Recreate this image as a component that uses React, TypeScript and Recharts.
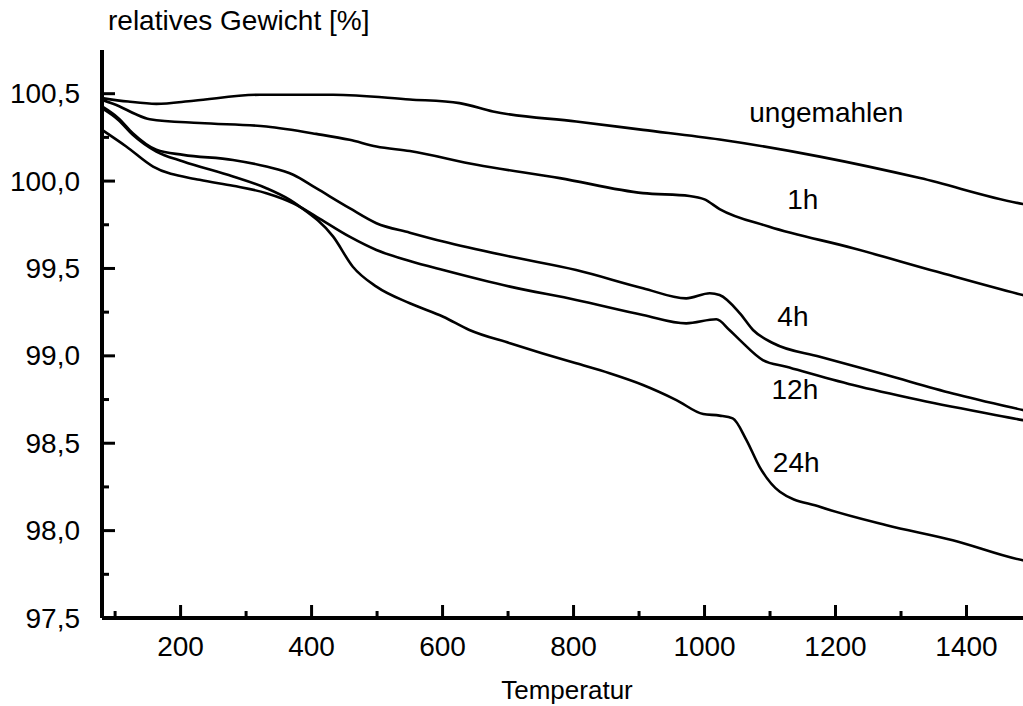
import React from "react";
import {
  LineChart,
  Line,
  XAxis,
  YAxis,
  ReferenceDot
} from "recharts";

// temperature [°C] / relative weight [%] pairs per milling time
const UNGEMAHLEN: [number, number][] = [
  [80, 100.475], [120, 100.455], [163, 100.442], [220, 100.46], [321, 100.494],
  [433, 100.494], [550, 100.467], [626, 100.446], [677, 100.398], [804, 100.341],
  [906, 100.293], [1023, 100.238], [1176, 100.14], [1329, 100.017], [1486, 99.869],
  [1500, 99.86]
];

const H1: [number, number][] = [
  [80, 100.465], [107, 100.427], [130, 100.385], [153, 100.354], [229, 100.332],
  [331, 100.312], [407, 100.27], [458, 100.236], [499, 100.198], [550, 100.172],
  [652, 100.093], [779, 100.017], [906, 99.931], [977, 99.915], [1000, 99.895],
  [1023, 99.84], [1099, 99.739], [1227, 99.616], [1354, 99.482], [1486, 99.348],
  [1500, 99.335]
];

const H4: [number, number][] = [
  [80, 100.427], [105, 100.36], [127, 100.274], [163, 100.179], [204, 100.15],
  [280, 100.121], [331, 100.083], [372, 100.036], [407, 99.959], [458, 99.845],
  [499, 99.759], [550, 99.705], [601, 99.654], [703, 99.568], [804, 99.491],
  [906, 99.387], [972, 99.329], [1008, 99.358], [1023, 99.348], [1054, 99.243],
  [1074, 99.148], [1105, 99.072], [1176, 98.995], [1278, 98.89], [1379, 98.785],
  [1486, 98.69], [1500, 98.678]
];

const H12: [number, number][] = [
  [80, 100.293], [117, 100.198], [158, 100.083], [229, 100.007], [280, 99.973],
  [331, 99.931], [372, 99.873], [407, 99.797], [458, 99.682], [499, 99.606],
  [550, 99.543], [601, 99.491], [703, 99.396], [804, 99.32], [906, 99.234],
  [972, 99.186], [1018, 99.209], [1038, 99.148], [1054, 99.09], [1089, 98.976],
  [1125, 98.938], [1227, 98.833], [1328, 98.747], [1486, 98.632], [1500, 98.622]
];

const H24: [number, number][] = [
  [80, 100.417], [105, 100.35], [127, 100.265], [163, 100.169], [204, 100.112],
  [280, 100.026], [331, 99.959], [367, 99.892], [382, 99.854], [433, 99.682],
  [463, 99.51], [499, 99.396], [550, 99.301], [601, 99.224], [641, 99.148],
  [703, 99.072], [753, 99.014], [804, 98.957], [855, 98.9], [906, 98.833],
  [957, 98.747], [998, 98.667], [1023, 98.658], [1043, 98.642], [1064, 98.518],
  [1084, 98.365], [1115, 98.222], [1176, 98.136], [1278, 98.031], [1379, 97.945],
  [1486, 97.83], [1500, 97.82]
];

const SERIES = [
  { name: "ungemahlen", points: UNGEMAHLEN, labelAt: [1186, 100.395] },
  { name: "1h", points: H1, labelAt: [1150, 99.895] },
  { name: "4h", points: H4, labelAt: [1135, 99.224] },
  { name: "12h", points: H12, labelAt: [1138, 98.806] },
  { name: "24h", points: H24, labelAt: [1140, 98.388] }
];

const X_TICKS = [100, 200, 300, 400, 500, 600, 700, 800, 900, 1000, 1100, 1200, 1300, 1400];
const X_LABELED = [200, 400, 600, 800, 1000, 1200, 1400];
const Y_TICKS = [97.5, 97.75, 98, 98.25, 98.5, 98.75, 99, 99.25, 99.5, 99.75, 100, 100.25, 100.5];
const Y_LABELED = [97.5, 98, 98.5, 99, 99.5, 100, 100.5];

const FONT = "'Liberation Sans', Arial, sans-serif";
const FS = 28;

const fmt = (v: number) => v.toFixed(1).replace(".", ",");

const YTick = (props: any) => {
  const { x, y, payload } = props;
  const major = Y_LABELED.includes(payload.value);
  return (
    <g>
      <line x1={x} x2={x + (major ? 13 : 7)} y1={y} y2={y} stroke="#000" strokeWidth={3} />
      {major && (
        <text x={x - 22} y={y} textAnchor="end" dominantBaseline="central"
          fontFamily={FONT} fontSize={FS} fill="#000">
          {fmt(payload.value)}
        </text>
      )}
    </g>
  );
};

const XTick = (props: any) => {
  const { x, y, payload } = props;
  const major = X_LABELED.includes(payload.value);
  return (
    <g>
      <line x1={x} x2={x} y1={y} y2={y - (major ? 13 : 7)} stroke="#000" strokeWidth={3} />
      {major && (
        <text x={x} y={y + 28} textAnchor="middle" dominantBaseline="central"
          fontFamily={FONT} fontSize={FS} fill="#000">
          {payload.value}
        </text>
      )}
    </g>
  );
};

// short inward ticks along the top frame
const TopTick = (props: any) => {
  const { x, y, payload } = props;
  const major = X_LABELED.includes(payload.value);
  return <line x1={x} x2={x} y1={y} y2={y + (major ? 4 : 3)} stroke="#000" strokeWidth={3} />;
};

const App: React.FC = () => {
  return (
    <div style={{ position: "absolute", left: 0, top: 0, width: 1023, height: 706, overflow: "hidden", background: "#fff" }}>
      <LineChart width={1040} height={706} margin={{ top: 50, right: 8, bottom: 0, left: 0 }}>
        <XAxis
          xAxisId="b"
          type="number"
          dataKey="t"
          domain={[80, 1500]}
          ticks={X_TICKS}
          allowDataOverflow
          height={88}
          tickSize={0}
          tickMargin={0}
          tick={<XTick />}
          axisLine={{ stroke: "#000", strokeWidth: 4 }}
          label={{
            content: (p: any) => (
              <text x={p.viewBox.x + p.viewBox.width / 2} y={p.viewBox.y + 72}
                textAnchor="middle" dominantBaseline="central"
                fontFamily={FONT} fontSize={26} fill="#000">
                Temperatur
              </text>
            )
          }}
        />
        <XAxis
          xAxisId="t"
          orientation="top"
          type="number"
          dataKey="t"
          domain={[80, 1500]}
          ticks={X_TICKS}
          allowDataOverflow
          height={0}
          tickSize={0}
          tickMargin={0}
          tick={<TopTick />}
          axisLine={{ stroke: "#000", strokeWidth: 3 }}
        />
        <YAxis
          yAxisId="l"
          type="number"
          domain={[97.5, 100.75]}
          ticks={Y_TICKS}
          allowDataOverflow
          width={102}
          tickSize={0}
          tickMargin={0}
          tick={<YTick />}
          axisLine={{ stroke: "#000", strokeWidth: 4 }}
          label={{
            content: (p: any) => (
              <text x={p.viewBox.x + 108} y={20} dominantBaseline="central"
                fontFamily={FONT} fontSize={FS} fill="#000">
                relatives Gewicht [%]
              </text>
            )
          }}
        />
        {SERIES.map(s => (
          <Line
            key={s.name}
            xAxisId="b"
            yAxisId="l"
            data={s.points.map(([t, w]) => ({ t, w }))}
            dataKey="w"
            type="monotone"
            stroke="#000"
            strokeWidth={2.6}
            dot={false}
            activeDot={false}
            isAnimationActive={false}
          />
        ))}
        {SERIES.map(s => (
          <ReferenceDot
            key={"lbl-" + s.name}
            xAxisId="b"
            yAxisId="l"
            x={s.labelAt[0]}
            y={s.labelAt[1]}
            r={0}
            stroke="none"
            fill="none"
            label={{
              content: (p: any) => (
                <text x={p.viewBox.x} y={p.viewBox.y} textAnchor="middle" dominantBaseline="central"
                  fontFamily={FONT} fontSize={FS} fill="#000">
                  {s.name}
                </text>
              )
            }}
          />
        ))}
      </LineChart>
    </div>
  );
};

export default App;
